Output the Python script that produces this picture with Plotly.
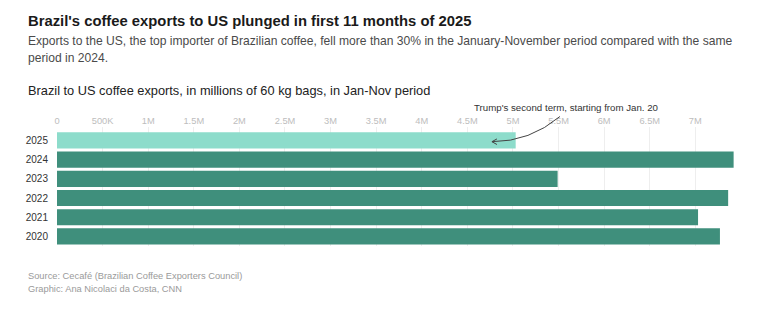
import plotly.graph_objects as go

# Brazil -> US coffee exports, Jan-Nov, millions of 60 kg bags
years = ["2025", "2024", "2023", "2022", "2021", "2020"]
exports_m = [5.03, 7.42, 5.49, 7.36, 7.03, 7.27]
bar_colors = ["#8ddccb", "#3f8f7c", "#3f8f7c", "#3f8f7c", "#3f8f7c", "#3f8f7c"]

tick_vals = [0, 0.5, 1, 1.5, 2, 2.5, 3, 3.5, 4, 4.5, 5, 5.5, 6, 6.5, 7]
tick_text = ["0", "500K", "1M", "1.5M", "2M", "2.5M", "3M", "3.5M", "4M",
             "4.5M", "5M", "5.5M", "6M", "6.5M", "7M"]

W, H = 760, 325
L, R, T, B = 57, 20, 127, 79
PW, PH = W - L - R, H - T - B
X_MAX = 7.49


def px_x(px):
    return (px - L) / PW


def px_y(py):
    return (H - B - py) / PH


FONT = "Liberation Sans, Arial, sans-serif"

fig = go.Figure(
    go.Bar(
        y=years,
        x=exports_m,
        orientation="h",
        marker=dict(color=bar_colors, line=dict(width=0)),
        hoverinfo="skip",
    )
)

fig.update_layout(
    width=W,
    height=H,
    margin=dict(l=L, r=R, t=T, b=B),
    paper_bgcolor="white",
    plot_bgcolor="white",
    showlegend=False,
    bargap=0.16,
    font=dict(family=FONT),
    xaxis=dict(
        range=[0, X_MAX],
        side="top",
        tickvals=tick_vals,
        ticktext=tick_text,
        tickfont=dict(size=9.3, color="#bdbdbd"),
        showgrid=True,
        gridcolor="#eeeeee",
        gridwidth=1,
        zeroline=False,
        showline=False,
        ticks="",
        ticklabelstandoff=0,
        fixedrange=True,
    ),
    yaxis=dict(
        type="category",
        categoryorder="array",
        categoryarray=years[::-1],
        range=[-0.5, 5.7],
        tickfont=dict(size=10, color="#333333"),
        showgrid=False,
        zeroline=False,
        showline=False,
        ticks="",
        ticklabelstandoff=8,
        fixedrange=True,
    ),
)

texts = [
    ("Brazil's coffee exports to US plunged in first 11 months of 2025",
     21, 14.8, "#1a1a1a", True),
    ("Exports to the US, the top importer of Brazilian coffee, fell more than 30% "
     "in the January-November period compared with the same",
     41, 12.1, "#4a4a4a", False),
    ("period in 2024.", 58, 12.1, "#4a4a4a", False),
    ("Brazil to US coffee exports, in millions of 60 kg bags, in Jan-Nov period",
     90, 12.8, "#222222", False),
    ("Source: Cecafé (Brazilian Coffee Exporters Council)", 276, 9.3, "#9a9a9a", False),
    ("Graphic: Ana Nicolaci da Costa, CNN", 289, 9.3, "#9a9a9a", False),
]
for txt, py, size, color, bold in texts:
    label = f"<b>{txt}</b>" if bold else txt
    fig.add_annotation(
        text=label, xref="paper", yref="paper",
        x=px_x(26), y=px_y(py), xanchor="left", yanchor="middle",
        showarrow=False,
        font=dict(size=size, color=color, family=FONT),
    )

# Callout for the 2025 bar
fig.add_annotation(
    text="Trump's second term, starting from Jan. 20",
    xref="paper", yref="paper", x=px_x(566), y=px_y(107),
    xanchor="center", yanchor="middle", showarrow=False,
    font=dict(size=9.7, color="#333333", family=FONT),
)

k = 1 / 91.2
sx, sy = (560 - L) * k, px_y(116.5)
cx, cy = (530 - L) * k, px_y(141.7)
ex, ey = (492 - L) * k, px_y(141.7)
fig.add_shape(
    type="path", xref="x", yref="paper",
    path=f"M {sx},{sy} Q {cx},{cy} {ex},{ey}",
    line=dict(color="#444444", width=1),
)
fig.add_shape(
    type="path", xref="x", yref="paper",
    path=(f"M {ex + 5 * k},{ey + 2.8 / PH} L {ex},{ey} "
          f"L {ex + 5 * k},{ey - 2.8 / PH}"),
    line=dict(color="#444444", width=1),
)

fig.write_html("out.html")
